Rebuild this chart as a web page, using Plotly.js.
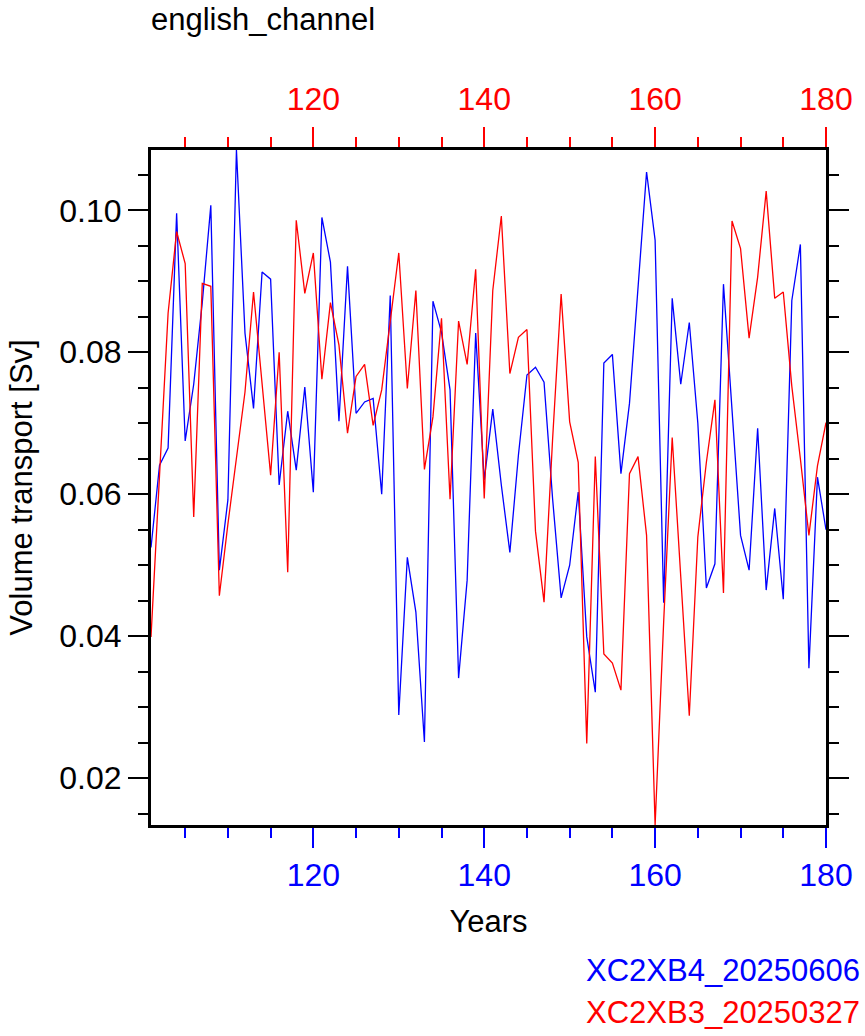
<!DOCTYPE html>
<html>
<head>
<meta charset="utf-8">
<script src="https://cdn.plot.ly/plotly-3.0.1.min.js"></script>
<style>
  html, body { margin: 0; padding: 0; background: #fff; }
  #chart { width: 865px; height: 1036px; }
</style>
</head>
<body>
<div id="chart"></div>
<script>
// Model years (simulation years 101-180)
const years = [
  101, 102, 103, 104, 105, 106, 107, 108, 109, 110,
  111, 112, 113, 114, 115, 116, 117, 118, 119, 120,
  121, 122, 123, 124, 125, 126, 127, 128, 129, 130,
  131, 132, 133, 134, 135, 136, 137, 138, 139, 140,
  141, 142, 143, 144, 145, 146, 147, 148, 149, 150,
  151, 152, 153, 154, 155, 156, 157, 158, 159, 160,
  161, 162, 163, 164, 165, 166, 167, 168, 169, 170,
  171, 172, 173, 174, 175, 176, 177, 178, 179, 180
];

// Annual mean volume transport through the English Channel [Sv]
const transportB4 = [
  0.0525, 0.0641, 0.0665, 0.0996, 0.0675, 0.0755, 0.0870, 0.1007, 0.0493, 0.0592,
  0.1085, 0.0827, 0.0721, 0.0913, 0.0903, 0.0613, 0.0717, 0.0634, 0.0751, 0.0603,
  0.0990, 0.0927, 0.0703, 0.0921, 0.0714, 0.0730, 0.0735, 0.0600, 0.0880, 0.0289,
  0.0511, 0.0434, 0.0251, 0.0872, 0.0828, 0.0747, 0.0341, 0.0479, 0.0827, 0.0620,
  0.0720, 0.0613, 0.0518, 0.0655, 0.0768, 0.0779, 0.0758, 0.0594, 0.0454, 0.0500,
  0.0603, 0.0399, 0.0321, 0.0785, 0.0797, 0.0629, 0.0728, 0.0890, 0.1054, 0.0958,
  0.0447, 0.0876, 0.0755, 0.0842, 0.0700, 0.0468, 0.0502, 0.0896, 0.0720, 0.0542,
  0.0493, 0.0693, 0.0465, 0.0580, 0.0452, 0.0873, 0.0952, 0.0355, 0.0624, 0.0550
];

const transportB3 = [
  0.0399, 0.0635, 0.0855, 0.0970, 0.0925, 0.0568, 0.0897, 0.0893, 0.0457, 0.0558,
  0.0650, 0.0744, 0.0885, 0.0752, 0.0627, 0.0800, 0.0490, 0.0986, 0.0883, 0.0940,
  0.0762, 0.0870, 0.0810, 0.0686, 0.0766, 0.0783, 0.0697, 0.0747, 0.0842, 0.0940,
  0.0749, 0.0887, 0.0635, 0.0709, 0.0848, 0.0593, 0.0844, 0.0783, 0.0917, 0.0594,
  0.0887, 0.0992, 0.0770, 0.0821, 0.0832, 0.0548, 0.0448, 0.0677, 0.0882, 0.0702,
  0.0645, 0.0249, 0.0653, 0.0375, 0.0362, 0.0324, 0.0629, 0.0653, 0.0542, 0.0134,
  0.0420, 0.0680, 0.0484, 0.0288, 0.0540, 0.0645, 0.0733, 0.0461, 0.0985, 0.0946,
  0.0820, 0.0906, 0.1027, 0.0876, 0.0885, 0.0752, 0.0650, 0.0542, 0.0640, 0.0701
];

const seriesNames = ["XC2XB4_20250606", "XC2XB3_20250327"];
const seriesColors = ["blue", "red"];
const xTickVals = [120, 140, 160, 180];
const yTickVals = [0.02, 0.04, 0.06, 0.08, 0.10];

const FONT = "Liberation Sans, Arial, Helvetica, sans-serif";
const FS = 31;       // titles and legend text
const FS_TICK = 32;  // tick labels

// y range spans the full extent of both series
const allVals = transportB4.concat(transportB3);
const yMin = Math.min(...allVals);
const yMax = Math.max(...allVals);
const xRange = [years[0], years[years.length - 1]];

const traces = [
  {
    x: years, y: transportB4, type: "scatter", mode: "lines",
    name: seriesNames[0], xaxis: "x", yaxis: "y",
    line: { color: seriesColors[0], width: 1.3 }
  },
  {
    x: years, y: transportB3, type: "scatter", mode: "lines",
    name: seriesNames[1], xaxis: "x2", yaxis: "y",
    line: { color: seriesColors[1], width: 1.3 }
  }
];

function xAxisFor(color, side) {
  return {
    range: xRange,
    side: side,
    tickmode: "array",
    tickvals: xTickVals,
    ticks: "outside",
    ticklen: 20,
    tickwidth: 2,
    tickcolor: color,
    tickfont: { family: FONT, size: FS_TICK, color: color },
    showline: true,
    linecolor: "black",
    linewidth: 3,
    showgrid: false,
    zeroline: false,
    minor: { dtick: 5, tick0: 100, ticks: "outside", ticklen: 10, tickwidth: 2, tickcolor: color, showgrid: false }
  };
}

const xaxis = xAxisFor(seriesColors[0], "bottom");
xaxis.title = { text: "Years", font: { family: FONT, size: FS, color: "black" }, standoff: 18 };

const xaxis2 = xAxisFor(seriesColors[1], "top");
xaxis2.overlaying = "x";
xaxis2.anchor = "y";
xaxis2.ticklabelstandoff = 4;

const layout = {
  width: 865,
  height: 1036,
  margin: { l: 151, r: 39, t: 150, b: 211, pad: 0 },
  paper_bgcolor: "white",
  plot_bgcolor: "white",
  showlegend: false,
  font: { family: FONT, size: FS, color: "black" },
  title: {
    text: "english_channel",
    font: { family: FONT, size: FS, color: "black" },
    xref: "paper", x: 0, xanchor: "left",
    yref: "container", y: 1 - 19 / 1036, yanchor: "middle"
  },
  xaxis: xaxis,
  xaxis2: xaxis2,
  yaxis: {
    range: [yMin, yMax],
    tickmode: "array",
    tickvals: yTickVals,
    tickformat: ".2f",
    ticks: "outside",
    ticklen: 20,
    tickwidth: 2,
    tickcolor: "black",
    tickfont: { family: FONT, size: FS_TICK, color: "black" },
    showline: true,
    linecolor: "black",
    linewidth: 3,
    mirror: "ticks",
    showgrid: false,
    zeroline: false,
    minor: { dtick: 0.005, tick0: 0, ticks: "outside", ticklen: 10, tickwidth: 2, tickcolor: "black", showgrid: false },
    title: { text: "Volume transport [Sv]", font: { family: FONT, size: FS, color: "black" }, standoff: 18 }
  },
  annotations: [
    {
      text: seriesNames[0], xref: "paper", yref: "paper",
      x: 1 + 36 / 675, y: -145 / 675, xanchor: "right", yanchor: "middle",
      showarrow: false, font: { family: FONT, size: FS, color: seriesColors[0] }
    },
    {
      text: seriesNames[1], xref: "paper", yref: "paper",
      x: 1 + 36 / 675, y: -187 / 675, xanchor: "right", yanchor: "middle",
      showarrow: false, font: { family: FONT, size: FS, color: seriesColors[1] }
    }
  ]
};

Plotly.newPlot("chart", traces, layout, { displayModeBar: false, staticPlot: true });
</script>
</body>
</html>
